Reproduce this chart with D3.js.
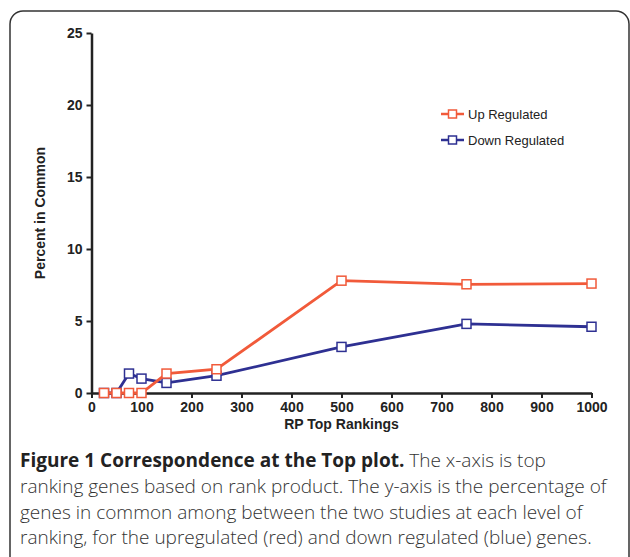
<!DOCTYPE html>
<html>
<head>
<meta charset="utf-8">
<script src="https://cdn.jsdelivr.net/npm/d3@7"></script>
<style>
  body { margin: 0; background: #fff; }
  svg { display: block; }
</style>
</head>
<body>
<div id="chart"></div>
<script>
// data
const rankings = [25, 50, 75, 100, 150, 250, 500, 750, 1000];
const upRegulated = [0, 0, 0, 0, 1.35, 1.65, 7.8, 7.55, 7.6];
const downRegulated = [0, 0, 1.35, 1.0, 0.7, 1.2, 3.2, 4.8, 4.6];
const xTicks = [0, 100, 200, 300, 400, 500, 600, 700, 800, 900, 1000];
const yTicks = [0, 5, 10, 15, 20, 25];
const captionLines = [
  ["Figure 1 Correspondence at the Top plot.", " The x-axis is top"],
  ["", "ranking genes based on rank product. The y-axis is the percentage of"],
  ["", "genes in common among between the two studies at each level of"],
  ["", "ranking, for the upregulated (red) and down regulated (blue) genes."]
];

const width = 630, height = 557;
const red = "#f15a3a", blue = "#2e3092";
const axisFont = "Liberation Sans, Arial, sans-serif";

const svg = d3.select("#chart").append("svg")
  .attr("width", width)
  .attr("height", height);

// rounded frame around figure
svg.append("rect")
  .attr("x", 10).attr("y", 11)
  .attr("width", 619).attr("height", 570)
  .attr("rx", 13)
  .attr("fill", "none")
  .attr("stroke", "#333")
  .attr("stroke-width", 1.5);

const x = d3.scaleLinear().domain([0, 1000]).range([91.5, 591.5]);
const y = d3.scaleLinear().domain([0, 25]).range([393, 33]);

const g = svg.append("g");

function styleAxis(ax) {
  ax.attr("font-size", null).attr("font-family", null);
  ax.select(".domain").attr("stroke", "#222").attr("stroke-width", 2.5);
  ax.selectAll(".tick line").attr("stroke", "#222").attr("stroke-width", 2);
  ax.selectAll("text")
    .style("font-family", axisFont)
    .style("font-size", "14px")
    .style("font-weight", "bold")
    .attr("fill", "#222");
}

g.append("g")
  .attr("transform", "translate(0," + y(0) + ")")
  .call(d3.axisBottom(x).tickValues(xTicks).tickFormat(d3.format("d"))
    .tickSize(5).tickSizeOuter(0).tickPadding(4))
  .call(styleAxis);

g.append("g")
  .attr("transform", "translate(" + x(0) + ",0)")
  .call(d3.axisLeft(y).tickValues(yTicks).tickFormat(d3.format("d"))
    .tickSize(5).tickSizeOuter(0).tickPadding(4))
  .call(styleAxis);

// axis titles
g.append("text")
  .attr("x", x(500)).attr("y", 429)
  .attr("text-anchor", "middle")
  .style("font-family", axisFont)
  .style("font-size", "14px").style("font-weight", "bold").attr("fill", "#222")
  .text("RP Top Rankings");

g.append("text")
  .attr("transform", "translate(45," + y(12.5) + ") rotate(-90)")
  .attr("text-anchor", "middle")
  .style("font-family", axisFont)
  .style("font-size", "14px").style("font-weight", "bold").attr("fill", "#222")
  .text("Percent in Common");

const series = [
  { name: "Down Regulated", values: downRegulated, color: blue },
  { name: "Up Regulated", values: upRegulated, color: red }
];

const line = d3.line()
  .x(d => x(d[0]))
  .y(d => y(d[1]));

const m = 9; // marker size

series.forEach(s => {
  const pts = rankings.map((r, i) => [r, s.values[i]]);
  g.append("path")
    .datum(pts)
    .attr("d", line)
    .attr("fill", "none")
    .attr("stroke", s.color)
    .attr("stroke-width", 2.8);
  g.selectAll(null)
    .data(pts)
    .enter()
    .append("rect")
    .attr("x", d => x(d[0]) - m / 2)
    .attr("y", d => y(d[1]) - m / 2)
    .attr("width", m).attr("height", m)
    .attr("fill", "#fff")
    .attr("stroke", s.color)
    .attr("stroke-width", 1.5);
});

// legend
const legend = [
  { name: "Up Regulated", color: red, yy: 114 },
  { name: "Down Regulated", color: blue, yy: 140 }
];
legend.forEach(l => {
  const lg = g.append("g");
  lg.append("line")
    .attr("x1", 441).attr("x2", 464)
    .attr("y1", l.yy).attr("y2", l.yy)
    .attr("stroke", l.color).attr("stroke-width", 2.5);
  lg.append("rect")
    .attr("x", 452.5 - 4).attr("y", l.yy - 4)
    .attr("width", 8).attr("height", 8)
    .attr("fill", "#fff").attr("stroke", l.color).attr("stroke-width", 1.5);
  lg.append("text")
    .attr("x", 468).attr("y", l.yy + 4.5)
    .style("font-family", axisFont)
    .style("font-size", "13px").attr("fill", "#222")
    .text(l.name);
});

// caption
const cap = svg.append("g");
captionLines.forEach((c, i) => {
  const t = cap.append("text")
    .attr("x", 20).attr("y", 467 + i * 25.8)
    .style("font-family", "Open Sans, sans-serif")
    .style("font-size", "19px")
    .attr("fill", "#333");
  if (c[0]) t.append("tspan").style("font-weight", "bold").attr("fill", "#222").text(c[0]);
  t.append("tspan").style("font-weight", 300).text(c[1]);
});
</script>
</body>
</html>
